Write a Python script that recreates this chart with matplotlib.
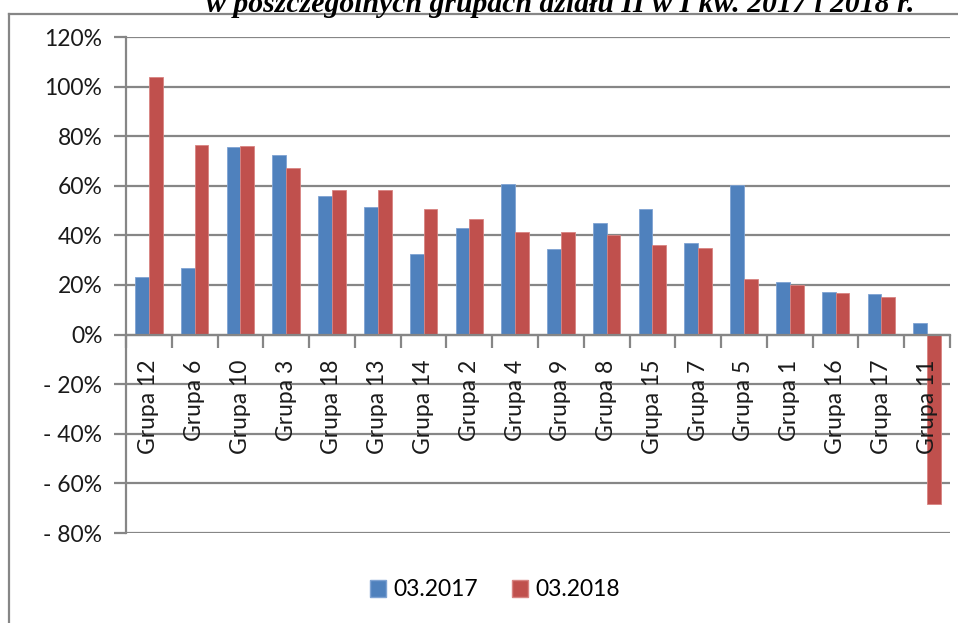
import matplotlib.pyplot as plt
import numpy as np
from matplotlib.lines import Line2D
from matplotlib.patches import Patch


groups = [
    "Grupa 12", "Grupa 6", "Grupa 10", "Grupa 3", "Grupa 18", "Grupa 13",
    "Grupa 14", "Grupa 2", "Grupa 4", "Grupa 9", "Grupa 8", "Grupa 15",
    "Grupa 7", "Grupa 5", "Grupa 1", "Grupa 16", "Grupa 17", "Grupa 11",
]
values_2017 = [23.1, 26.8, 75.6, 72.4, 55.9, 51.4, 32.5, 42.8, 60.8,
               34.5, 44.8, 50.5, 37.0, 60.3, 21.1, 17.1, 16.3, 4.8]
values_2018 = [104.0, 76.5, 76.0, 67.2, 58.3, 58.3, 50.6, 46.8, 41.2,
               41.2, 40.1, 36.1, 35.0, 22.6, 19.9, 16.7, 15.1, -68.5]
series_labels = ["03.2017", "03.2018"]
y_ticks = [120, 100, 80, 60, 40, 20, 0, -20, -40, -60, -80]
title_text = "w poszczególnych grupach działu II w I kw. 2017 i 2018 r."

BLUE = "#4F81BD"
RED = "#C0504D"
GRID = "#868686"
plt.rcParams["font.family"] = ["Lato", "DejaVu Sans"]
FS = 16.5


def format_pct(v):
    return f"{v}%" if v >= 0 else f"- {abs(v)}%"


fig = plt.figure(figsize=(9.58, 6.23), dpi=100)
ax = fig.add_axes([126 / 958, 1 - 533 / 623, (950 - 126) / 958, (533 - 37) / 623])

x = np.arange(len(groups))
w = 0.3
ax.bar(x - w / 2, values_2017, width=w, color=BLUE, edgecolor="#7FA3D3",
       linewidth=0.6, zorder=1)
ax.bar(x + w / 2, values_2018, width=w, color=RED, edgecolor="#D88482",
       linewidth=0.6, zorder=1)

for t in y_ticks:
    ax.axhline(t, color=GRID, linewidth=1.6, zorder=0.5)

ax.set_xlim(-0.5, len(groups) - 0.5)
ax.set_ylim(-80, 120)

ax.set_yticks(y_ticks, [format_pct(t) for t in y_ticks])
ax.set_xticks(x, groups)
ax.set_xticks(np.arange(len(groups) + 1) - 0.5, minor=True)
ax.tick_params(axis="y", length=9, width=1.6, color=GRID, pad=8,
               labelsize=FS, labelcolor="#1a1a1a")
ax.tick_params(axis="x", which="major", length=0, pad=18, labelrotation=90,
               labelsize=FS, labelcolor="#1a1a1a")
ax.tick_params(axis="x", which="minor", length=9, width=1.6, color=GRID,
               direction="out")

for side in ["top", "right"]:
    ax.spines[side].set_visible(False)
ax.spines["bottom"].set_position(("data", 0))
ax.spines["bottom"].set_color(GRID)
ax.spines["bottom"].set_linewidth(1.6)
ax.spines["left"].set_color(GRID)
ax.spines["left"].set_linewidth(1.6)

handles = [Patch(facecolor=BLUE, edgecolor="#7FA3D3"),
           Patch(facecolor=RED, edgecolor="#D88482")]
fig.legend(handles, series_labels, loc="center", bbox_to_anchor=(495 / 958, 1 - 590 / 623),
           ncol=2, frameon=False, prop={"size": FS},
           handlelength=0.7, handleheight=0.7, handletextpad=0.3,
           columnspacing=1.5)

# outer chart frame (left and top edges visible)
fig.add_artist(Line2D([9 / 958, 9 / 958], [0, 1 - 14 / 623], transform=fig.transFigure,
                      color=GRID, linewidth=1.6))
fig.add_artist(Line2D([9 / 958, 1], [1 - 14 / 623, 1 - 14 / 623], transform=fig.transFigure,
                      color=GRID, linewidth=1.6))

fig.text(560 / 958, 1 - 12 / 623, title_text, ha="center", va="baseline",
         fontsize=21.4, fontweight="bold", fontstyle="italic",
         family="Liberation Serif")

fig.savefig("out.png", dpi=100)
